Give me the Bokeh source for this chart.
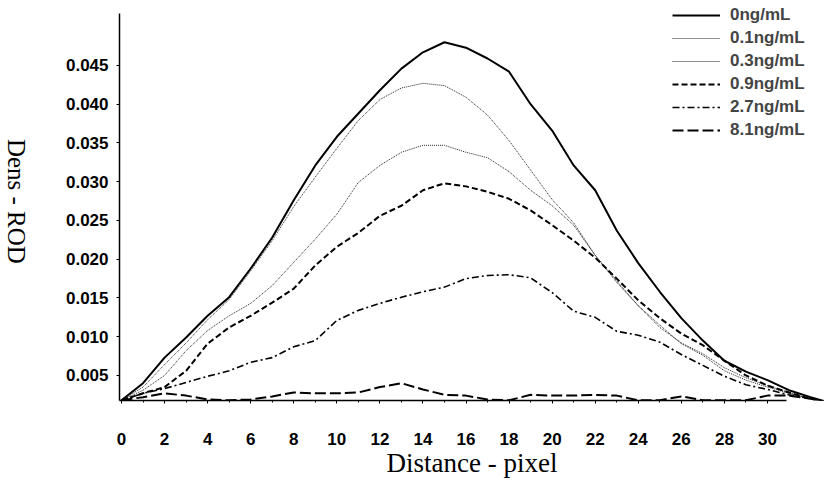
import math
from bokeh.plotting import figure
from bokeh.layouts import row
from bokeh.models import FixedTicker, Legend, LegendItem, SingleIntervalTicker, PrintfTickFormatter
from bokeh.core.properties import value
from bokeh.embed import file_html
from bokeh.resources import INLINE

# ---- data ----
distance = list(range(0, 34))
c_0 = [0.0018, 0.0040, 0.0073, 0.0099, 0.0127, 0.0151, 0.0188, 0.0228, 0.0276, 0.0321,
       0.0358, 0.0388, 0.0418, 0.0446, 0.0467, 0.0480, 0.0473, 0.0459, 0.0442, 0.0400,
       0.0366, 0.0321, 0.0289, 0.0237, 0.0195, 0.0158, 0.0124, 0.0095, 0.0069, 0.0055,
       0.0044, 0.0031, 0.0022, 0.0014]
c_01 = [0.0018, 0.0035, 0.0064, 0.0092, 0.0122, 0.0148, 0.0185, 0.0224, 0.0268, 0.0306,
        0.0343, 0.0379, 0.0406, 0.0421, 0.0427, 0.0424, 0.0409, 0.0386, 0.0353, 0.0315,
        0.0277, 0.0247, 0.0205, 0.0172, 0.0140, 0.0112, 0.0092, 0.0078, 0.0060, 0.0047,
        0.0037, 0.0028, 0.0020, 0.0014]
c_03 = [0.0018, 0.0031, 0.0050, 0.0082, 0.0108, 0.0127, 0.0143, 0.0166, 0.0196, 0.0226,
        0.0258, 0.0299, 0.0321, 0.0338, 0.0347, 0.0347, 0.0338, 0.0331, 0.0313, 0.0289,
        0.0269, 0.0244, 0.0205, 0.0170, 0.0140, 0.0115, 0.0091, 0.0076, 0.0056, 0.0044,
        0.0035, 0.0027, 0.0020, 0.0014]
c_09 = [0.0018, 0.0027, 0.0035, 0.0056, 0.0091, 0.0112, 0.0127, 0.0144, 0.0162, 0.0192,
        0.0216, 0.0234, 0.0256, 0.0269, 0.0289, 0.0298, 0.0294, 0.0287, 0.0278, 0.0263,
        0.0244, 0.0224, 0.0202, 0.0175, 0.0147, 0.0124, 0.0104, 0.0089, 0.0069, 0.0050,
        0.0037, 0.0028, 0.0020, 0.0014]
c_27 = [0.0018, 0.0027, 0.0033, 0.0041, 0.0049, 0.0056, 0.0067, 0.0073, 0.0087, 0.0095,
        0.0121, 0.0134, 0.0143, 0.0151, 0.0158, 0.0164, 0.0175, 0.0179, 0.0180, 0.0176,
        0.0157, 0.0133, 0.0125, 0.0107, 0.0102, 0.0093, 0.0077, 0.0063, 0.0049, 0.0038,
        0.0032, 0.0025, 0.0020, 0.0014]
c_81 = [0.0018, 0.0022, 0.0027, 0.0024, 0.0019, 0.0018, 0.0019, 0.0023, 0.0028, 0.0027,
        0.0027, 0.0028, 0.0035, 0.0040, 0.0032, 0.0025, 0.0024, 0.0019, 0.0018, 0.0025,
        0.0024, 0.0024, 0.0025, 0.0024, 0.0018, 0.0018, 0.0023, 0.0018, 0.0018, 0.0018,
        0.0024, 0.0024, 0.0020, 0.0014]
series_labels = ["0ng/mL", "0.1ng/mL", "0.3ng/mL", "0.9ng/mL", "2.7ng/mL", "8.1ng/mL"]
y_ticks = [0.005, 0.010, 0.015, 0.020, 0.025, 0.030, 0.035, 0.040, 0.045]
x_title = "Distance - pixel"
y_title = "Dens - ROD"

X0, X1 = -0.093, 32.65
Y0, Y1 = 0.00177, 0.05274
Y_AXIS_TOP = 0.05171

# narrow strip on the left holding the vertical (top-to-bottom) y title
strip = figure(width=40, height=487, output_backend="svg", toolbar_location=None,
               x_range=(0, 40), y_range=(0, 487), min_border=0,
               x_axis_location=None, y_axis_location=None)
strip.grid.visible = False
strip.outline_line_color = None
strip.text(x=[15.5], y=[245.5], text=[y_title], angle=-math.pi / 2,
           text_align="center", text_baseline="middle",
           text_font=value("Liberation Serif"), text_font_size="25px", text_color="black")

p = figure(width=784, height=487, output_backend="svg", toolbar_location=None,
           x_range=(X0, X1), y_range=(Y0, Y1),
           min_border_left=79, min_border_right=0, min_border_top=5, min_border_bottom=87)
p.outline_line_color = None
p.grid.visible = False
p.background_fill_color = "white"
p.border_fill_color = "white"

styles = [
    dict(line_width=2.0, line_dash="solid", line_color="black"),
    dict(line_width=1.0, line_dash="1 1", line_color="#222222"),
    dict(line_width=1.0, line_dash="1 1", line_color="#222222"),
    dict(line_width=2.0, line_dash="6 3", line_color="black"),
    dict(line_width=1.6, line_dash="7 3 2 3", line_color="black"),
    dict(line_width=2.0, line_dash="11 4", line_color="black"),
]
renderers = []
for ys, st in zip([c_0, c_01, c_03, c_09, c_27, c_81], styles):
    renderers.append(p.line(distance, ys, **st))

legend = Legend(items=[LegendItem(label=l, renderers=[r]) for l, r in zip(series_labels, renderers)],
                location=(553, 260), glyph_width=48, glyph_height=20, label_height=20,
                spacing=3, padding=0, margin=0, label_standoff=10,
                border_line_color=None, background_fill_alpha=0,
                label_text_font="Liberation Sans", label_text_font_style="bold",
                label_text_font_size="17px")
p.add_layout(legend)

xa = p.xaxis[0]
xa.ticker = SingleIntervalTicker(interval=2, num_minor_ticks=2)
xa.bounds = (X0, 30.9)
xa.axis_label = x_title
xa.axis_label_text_font = "Liberation Serif"
xa.axis_label_text_font_style = "normal"
xa.axis_label_text_font_size = "27px"
xa.axis_label_standoff = 0
xa.major_label_standoff = 29
xa.major_label_text_font = "Liberation Sans"
xa.major_label_text_font_style = "bold"
xa.major_label_text_font_size = "17px"

ya = p.yaxis[0]
ya.ticker = FixedTicker(ticks=y_ticks)
ya.formatter = PrintfTickFormatter(format="%.3f")
ya.bounds = (Y0, Y_AXIS_TOP)
ya.major_label_standoff = 8
ya.major_label_text_font = "Liberation Sans"
ya.major_label_text_font_style = "bold"
ya.major_label_text_font_size = "17px"

for ax in (xa, ya):
    ax.axis_line_color = "black"
    ax.axis_line_width = 1.5
    ax.major_tick_out = 3
    ax.major_tick_in = 0
    ax.minor_tick_out = 2
    ax.minor_tick_in = 0
    ax.major_label_text_color = "black"
    ax.axis_label_text_color = "black"

layout = row(strip, p)
open("out.html", "w").write(file_html(layout, INLINE))
